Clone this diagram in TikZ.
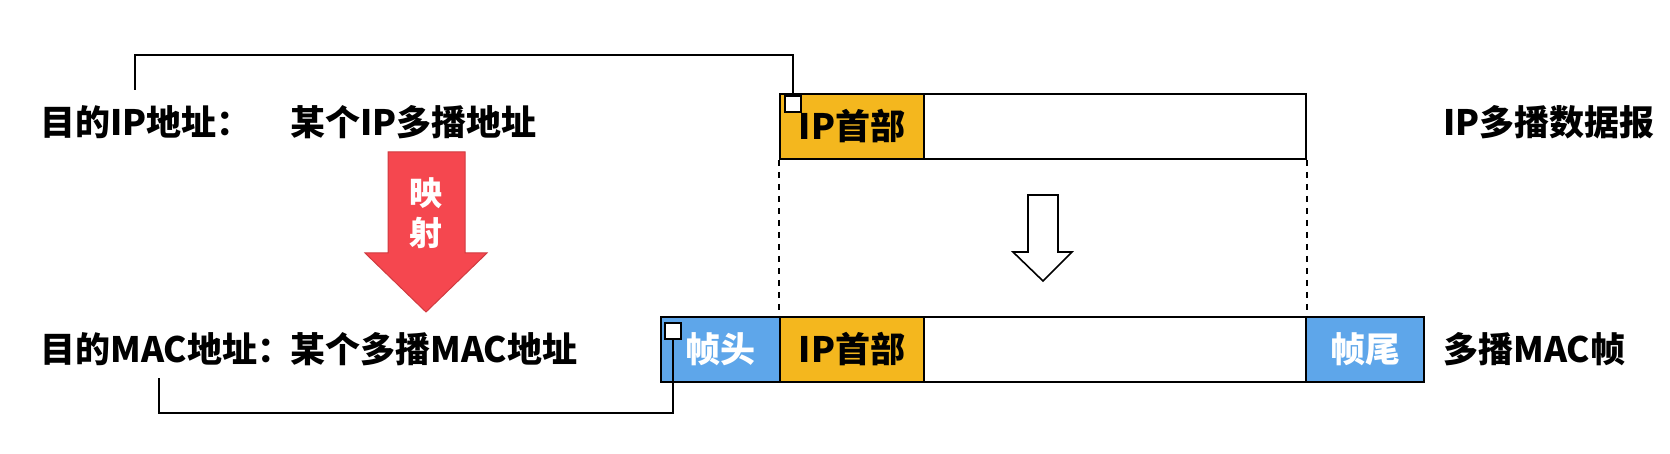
\documentclass[tikz,border=0pt]{standalone}
\usepackage{fontspec}
\setmainfont{Noto Sans CJK SC}
\usetikzlibrary{calc}
\definecolor{hdrorange}{HTML}{F4B71E}
\definecolor{frblue}{HTML}{5EA6EA}
\definecolor{mapred}{HTML}{F5474F}
\definecolor{mapredline}{HTML}{D03A3F}
\tikzset{
  lbl/.style={anchor=west,inner sep=0pt,font=\fontsize{17.5}{20}\selectfont\bfseries},
  seg/.style={draw=black,line width=0.8pt,inner sep=0pt,minimum height=32.5pt,font=\fontsize{17.5}{20}\selectfont\bfseries},
  hdrbox/.style={seg,fill=hdrorange,minimum width=72pt},
  bodybox/.style={seg,fill=white,minimum width=191pt},
  bluebox/.style={seg,fill=frblue,text=white,minimum width=59.5pt},
  sqbox/.style={draw=black,line width=0.8pt,fill=white,minimum size=8pt,inner sep=0pt},
  conn/.style={draw=black,line width=0.8pt},
  dashline/.style={draw=black,line width=0.8pt,dash pattern=on 3pt off 3pt},
}
\begin{document}
\begin{tikzpicture}[x=0.5pt,y=-0.5pt]
\useasboundingbox (0,0) rectangle (1670,454);
% labels
\node[lbl] (ipdst) at (40,122) {目的IP地址：};
\node[lbl] (ipval) at (290,122) {某个IP多播地址};
\node[lbl] (ipname) at (1443,122) {IP多播数据报};
\node[lbl] (macdst) at (40,349) {目的MAC地址：};
\node[lbl] (macval) at (290,349) {某个多播MAC地址};
\node[lbl] (macname) at (1443,349) {多播MAC帧};
% top datagram
\node[hdrbox] (hdr1) at (852,126.5) {IP首部};
\node[bodybox] (body1) at (1115,126.5) {};
% bottom frame
\node[bluebox] (hd) at (720.5,349.5) {帧头};
\node[hdrbox] (hdr2) at (852,349.5) {IP首部};
\node[bodybox] (body2) at (1115,349.5) {};
\node[bluebox,minimum width=59pt] (tl) at (1365,349.5) {帧尾};
% small squares
\node[sqbox] (sq1) at (793,104) {};
\node[sqbox] (sq2) at (673,331) {};
% dashed guides
\draw[dashline] (hdr1.south west) -- (hdr2.north west);
\draw[dashline] (body1.south east) -- (body2.north east);
% connectors
\coordinate (c1) at (135,90);
\coordinate (c2) at (159,378);
\draw[conn] (c1) -- ++(0,-35) -| (sq1.north);
\draw[conn] (c2) -- ++(0,35) -| (sq2.south);
% red mapping arrow
\draw[fill=mapred,draw=mapredline,line width=0.5pt,line join=miter]
  (388,152) -- (465,152) -- (465,253) -- (487,253) -- (426,312) -- (365,253) -- (388,253) -- cycle;
\node[text=white,inner sep=0pt,font=\fontsize{16.5}{18}\selectfont\bfseries] (ying) at (426,193) {映};
\node[text=white,inner sep=0pt,font=\fontsize{16.5}{18}\selectfont\bfseries] (she) at (426,233) {射};
% hollow arrow
\draw[fill=white,draw=black,line width=0.8pt,line join=miter]
  (1028,195) -- (1058,195) -- (1058,252) -- (1072,252) -- (1043,281) -- (1013,252) -- (1028,252) -- cycle;
\end{tikzpicture}
\end{document}
